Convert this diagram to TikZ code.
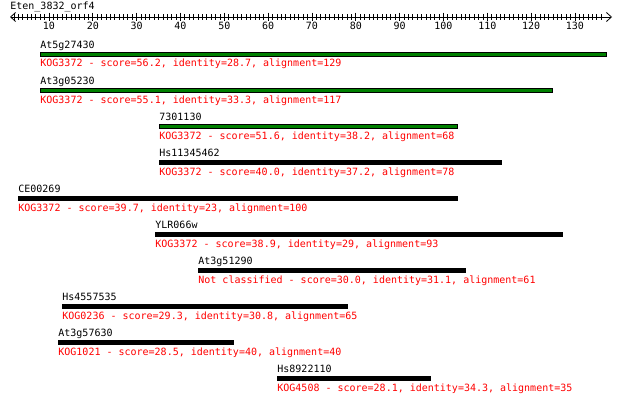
\documentclass[tikz,border=0pt]{standalone}
\usepackage{fontspec}
\setmonofont{DejaVu Sans Mono}
\usepackage{xcolor}
\usetikzlibrary{positioning, arrows.meta}

\definecolor{hitgreen}{RGB}{0,128,0}

\begin{document}
\begin{tikzpicture}[x=1pt, y=-1pt, >={Straight Barb[length=5pt,width=9pt]}, line width=0.8pt,
    txt/.style = {font=\ttfamily\fontsize{10}{12}\selectfont, inner sep=0, anchor=base west},
    seq/.style = {txt},
    kog/.style = {txt, text=red},
    hit/.style = {draw, fill=black, line width=1pt, minimum height=4pt, inner sep=0, anchor=west},
    greenhit/.style = {hit, fill=hitgreen}]

    \useasboundingbox (0,0) rectangle (620,401);

    % query ruler
    \node[seq] (query) at (10,10) {Eten\_3832\_orf4};
    \coordinate (rl) at (10,17);
    \coordinate (rr) at (612,17);
    \draw[<->] (rl) -- (rr);
    \foreach \u in {2,...,136}
        \draw (5.17+4.383*\u, 14.3) -- ++(0,5.4);
    \foreach \u in {10,20,...,130} {
        \draw (5.17+4.383*\u, 12.7) -- ++(0,8.6);
        \node[txt, anchor=base] (t\u) at (5.17+4.383*\u, 30) {\u};
    }

    % hits
    \node[greenhit, minimum width=566pt] (b1) at (40,54.5) {};
    \node[greenhit, minimum width=512pt] (b2) at (40,90.5) {};
    \node[greenhit, minimum width=298pt] (b3) at (159,126.5) {};
    \node[hit, minimum width=342pt] (b4) at (159,162.5) {};
    \node[hit, minimum width=439pt] (b5) at (18,198.5) {};
    \node[hit, minimum width=407pt] (b6) at (155,234.5) {};
    \node[hit, minimum width=267pt] (b7) at (198,270.5) {};
    \node[hit, minimum width=285pt] (b8) at (62,306.5) {};
    \node[hit, minimum width=175pt] (b9) at (58,342.5) {};
    \node[hit, minimum width=153pt] (b10) at (277,378.5) {};

    % names above
    \node[seq, above=3.5pt of b1.north west, anchor=base west] (n1) {At5g27430};
    \node[seq, above=3.5pt of b2.north west, anchor=base west] (n2) {At3g05230};
    \node[seq, above=3.5pt of b3.north west, anchor=base west] (n3) {7301130};
    \node[seq, above=3.5pt of b4.north west, anchor=base west] (n4) {Hs11345462};
    \node[seq, above=3.5pt of b5.north west, anchor=base west] (n5) {CE00269};
    \node[seq, above=3.5pt of b6.north west, anchor=base west] (n6) {YLR066w};
    \node[seq, above=3.5pt of b7.north west, anchor=base west] (n7) {At3g51290};
    \node[seq, above=3.5pt of b8.north west, anchor=base west] (n8) {Hs4557535};
    \node[seq, above=3.5pt of b9.north west, anchor=base west] (n9) {At3g57630};
    \node[seq, above=3.5pt of b10.north west, anchor=base west] (n10) {Hs8922110};

    % scores below
    \node[kog, below=10pt of b1.south west, anchor=base west] (k1) {KOG3372 - score=56.2, identity=28.7, alignment=129};
    \node[kog, below=10pt of b2.south west, anchor=base west] (k2) {KOG3372 - score=55.1, identity=33.3, alignment=117};
    \node[kog, below=10pt of b3.south west, anchor=base west] (k3) {KOG3372 - score=51.6, identity=38.2, alignment=68};
    \node[kog, below=10pt of b4.south west, anchor=base west] (k4) {KOG3372 - score=40.0, identity=37.2, alignment=78};
    \node[kog, below=10pt of b5.south west, anchor=base west] (k5) {KOG3372 - score=39.7, identity=23, alignment=100};
    \node[kog, below=10pt of b6.south west, anchor=base west] (k6) {KOG3372 - score=38.9, identity=29, alignment=93};
    \node[kog, below=10pt of b7.south west, anchor=base west] (k7) {Not classified - score=30.0, identity=31.1, alignment=61};
    \node[kog, below=10pt of b8.south west, anchor=base west] (k8) {KOG0236 - score=29.3, identity=30.8, alignment=65};
    \node[kog, below=10pt of b9.south west, anchor=base west] (k9) {KOG1021 - score=28.5, identity=40, alignment=40};
    \node[kog, below=10pt of b10.south west, anchor=base west] (k10) {KOG4508 - score=28.1, identity=34.3, alignment=35};
\end{tikzpicture}
\end{document}
